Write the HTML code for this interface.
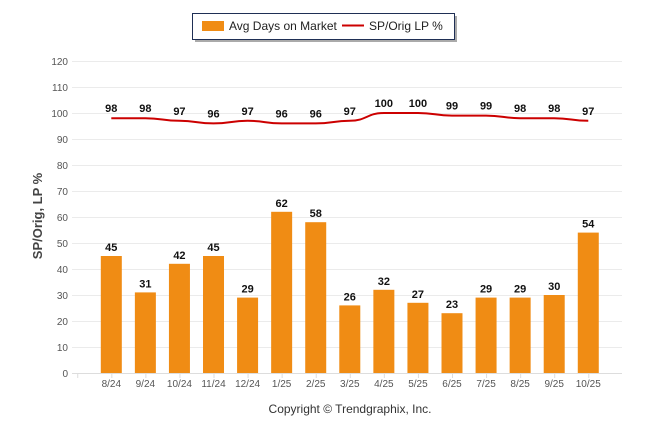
<!DOCTYPE html>
<html><head><meta charset="utf-8"><style>
body{margin:0;background:#fff;font-family:"Liberation Sans",Arial,sans-serif}
svg text{font-family:"Liberation Sans",Arial,sans-serif}
</style></head><body>
<svg id="c" width="646" height="434">
<g>
<rect x="195" y="16" width="262" height="26" fill="#aaa"/>
<rect x="192.5" y="13.5" width="262" height="26" fill="#fff" stroke="#1f2f55"/>
<rect x="202" y="21" width="22" height="10" fill="#f08c14"/>
<text x="229" y="30" font-size="12" fill="#222">Avg Days on Market</text>
<line x1="342" y1="25.5" x2="364" y2="25.5" stroke="#c00" stroke-width="2"/>
<text x="369" y="30" font-size="12" fill="#222">SP/Orig LP %</text>
</g>
<text transform="translate(42,216) rotate(-90)" text-anchor="middle" font-size="13" font-weight="bold" fill="#444">SP/Orig, LP %</text>
<text x="350" y="413" text-anchor="middle" font-size="12" fill="#333">Copyright © Trendgraphix, Inc.</text>
<g id="grid"></g><g id="bars"></g><g id="line"></g><g id="labels"></g>
</svg>
<script>
const categories=["8/24","9/24","10/24","11/24","12/24","1/25","2/25","3/25","4/25","5/25","6/25","7/25","8/25","9/25","10/25"];
const daysOnMarket=[45,31,42,45,29,62,58,26,32,27,23,29,29,30,54];
const spOrigLp=[98,98,97,96,97,96,96,97,100,100,99,99,98,98,97];
const yTicks=[0,10,20,30,40,50,60,70,80,90,100,110,120];
const NS="http://www.w3.org/2000/svg";
const y=v=>373-v*2.6;
const x=i=>111.3+i*34.07;
function mk(t,a,p){const e=document.createElementNS(NS,t);for(const k in a)e.setAttribute(k,a[k]);document.getElementById(p).appendChild(e);return e;}
yTicks.forEach(v=>{
 const l=mk('line',{x1:72,x2:622,y1:y(v)+.5,y2:y(v)+.5,stroke:v===0?'#ddd':'#ebebeb'},'grid');
 
 
 const t=mk('text',{x:68,y:y(v)+4,'text-anchor':'end','font-size':10,fill:'#555'},'grid');t.textContent=v;
 
 
});
for(let i=-1;i<categories.length;i++){
 const tk=mk('line',{x1:x(i)+.5,x2:x(i)+.5,y1:373,y2:378,stroke:'#ddd'},'grid');
 
 
}
categories.forEach((c,i)=>{
 const t=mk('text',{x:x(i),y:387,'text-anchor':'middle','font-size':10,fill:'#555'},'grid');t.textContent=c;
 
 
 const b=mk('rect',{x:x(i)-10.5,y:y(daysOnMarket[i]),width:21,height:daysOnMarket[i]*2.6,fill:'#f08c14'},'bars');
 
 
 const bl=mk('text',{x:x(i),y:y(daysOnMarket[i])-5,'text-anchor':'middle','font-size':11,'font-weight':'bold',fill:'#111'},'labels');bl.textContent=daysOnMarket[i];
 
 
 const ll=mk('text',{x:x(i),y:y(spOrigLp[i])-6,'text-anchor':'middle','font-size':11,'font-weight':'bold',fill:'#111'},'labels');ll.textContent=spOrigLp[i];
 
 
});
let d='';
spOrigLp.forEach((v,i)=>{
 const px=x(i),py=y(v);
 if(i===0)d+=`M${px},${py}`;
 else{const qx=x(i-1),qy=y(spOrigLp[i-1]),m=(px-qx)/2;d+=` C${qx+m},${qy} ${px-m},${py} ${px},${py}`;}
});
const p=mk('path',{d:d,fill:'none',stroke:'#c00',"stroke-width":2},'line');


</script>
</body></html>
